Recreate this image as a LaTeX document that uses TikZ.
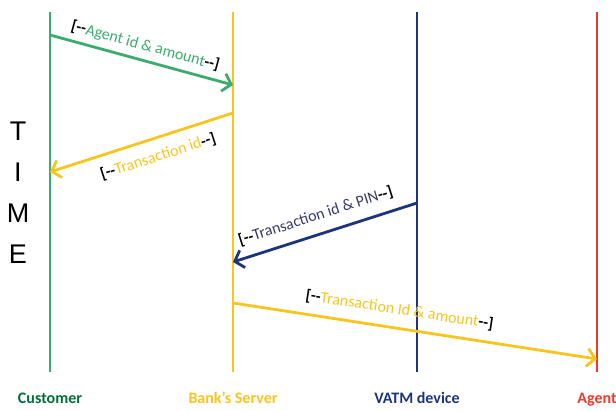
\documentclass[tikz,border=0pt]{standalone}
\usepackage{fontspec}
\setmainfont{Carlito}
\newfontfamily\timefont{Liberation Sans}
\usetikzlibrary{arrows.meta,positioning}
\definecolor{custgreen}{RGB}{60,172,110}
\definecolor{custdark}{RGB}{0,110,55}
\definecolor{bankyellow}{RGB}{250,196,30}
\definecolor{vatmblue}{RGB}{28,52,122}
\definecolor{vatmtext}{RGB}{55,60,105}
\definecolor{agentred}{RGB}{238,58,45}

\begin{document}
\begin{tikzpicture}[x=1pt,y=-1pt]
% Define styles
\tikzstyle{lifeline} = [draw, line width=2.8pt]
\tikzstyle{msg} = [draw, line width=2.8pt, -{Straight Barb[length=8pt,width=18pt]}]
\tikzstyle{actor} = [font=\fontsize{16}{16}\selectfont\bfseries, anchor=base]
\tikzstyle{msglabel} = [font=\fontsize{16}{16}\selectfont, sloped, inner sep=1pt]
\tikzstyle{timeletter} = [font=\timefont\fontsize{27}{27}\selectfont]

\useasboundingbox (0,0) rectangle (616,410);

    % Place nodes
    \node [actor, text=custdark] (customer) at (50,403) {Customer};
    \node [actor, text=bankyellow] (bank) at (233,403) {Bank's Server};
    \node [actor, text=vatmblue] (vatm) at (417,403) {VATM device};
    \node [actor, text=agentred] (agent) at (597,403) {Agent};
    \node [timeletter] (t) at (18,131) {T};
    \node [timeletter, below=41pt of t.center, anchor=center] (i) {I};
    \node [timeletter, below=41pt of i.center, anchor=center] (m) {M};
    \node [timeletter, below=41pt of m.center, anchor=center] (e) {E};
    % Lifeline ends
    \coordinate (custtop) at (50,12);
    \coordinate (custend) at (50,372);
    \coordinate (banktop) at (233,12);
    \coordinate (bankend) at (233,372);
    \coordinate (vatmtop) at (417,12);
    \coordinate (vatmend) at (417,372);
    \coordinate (agenttop) at (597,12);
    \coordinate (agentend) at (597,372);
    % Message ends
    \coordinate (c1) at (50,35);
    \coordinate (b1) at (233,85);
    \coordinate (b2) at (233,113);
    \coordinate (c2) at (50,172);
    \coordinate (v3) at (417,203);
    \coordinate (b3) at (233,262);
    \coordinate (b4) at (233,303);
    \coordinate (a4) at (597,359);
    % Draw lifelines
    \path [lifeline, custgreen] (custtop) -- (custend);
    \path [lifeline, bankyellow] (banktop) -- (bankend);
    \path [lifeline, vatmblue] (vatmtop) -- (vatmend);
    \path [lifeline, agentred] (agenttop) -- (agentend);
    % Draw messages
    \path [msg, custgreen] (c1) -- node [msglabel, above=5pt, pos=0.5] (lbl1)
        {\textbf{\color{black}[-{}-}\color{custgreen}Agent id \& amount\textbf{\color{black}-{}-]}} (b1);
    \path [msg, bankyellow] (b2) -- node [msglabel, below=9pt, pos=0.44] (lbl2)
        {\textbf{\color{black}[-{}-}\color{bankyellow}Transaction id\textbf{\color{black}-{}-]}} (c2);
    \path [msg, vatmblue] (v3) -- node [msglabel, above=9pt, pos=0.52] (lbl3)
        {\textbf{\color{black}[-{}-}\color{vatmtext}Transaction id \& PIN\textbf{\color{black}-{}-]}} (b3);
    \path [msg, bankyellow] (b4) -- node [msglabel, above=9pt, pos=0.45] (lbl4)
        {\textbf{\color{black}[-{}-}\color{bankyellow}Transaction Id \& amount\textbf{\color{black}-{}-]}} (a4);
\end{tikzpicture}
\end{document}
